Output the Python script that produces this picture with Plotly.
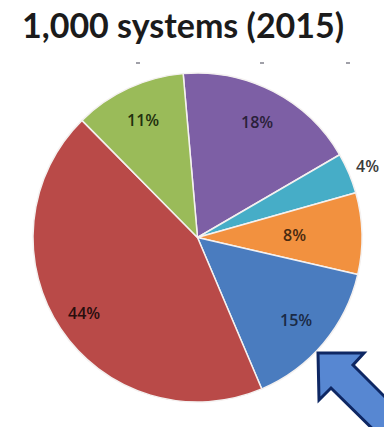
import math
import plotly.graph_objects as go

# Share of the 1,000 systems by category, clockwise from the top
categories = ["Purple", "Cyan", "Orange", "Blue", "Red", "Green"]
shares = [18, 4, 8, 15, 44, 11]
label_texts = ["18%", "4%", "8%", "15%", "44%", "11%"]

slice_colors = ["#7D5FA5", "#46ADC7", "#F2913F", "#4A7CBF", "#B94A48", "#9ABB59"]
label_radius = [0.79, 1.12, 0.59, 0.78, 0.83, 0.79]   # fraction of pie radius
label_colors = ["#2a1f3a", "#3a3a3a", "#4a2a10", "#1a2a45", "#2a0e0e", "#22300e"]

W, H = 384, 427
CX, CY, R = 197.5, 237.5, 164.5
ROTATION = -5


def px(x):
    return x / W


def py(y):
    return 1 - y / H


fig = go.Figure()
fig.add_trace(go.Pie(
    labels=categories,
    values=shares,
    sort=False,
    direction="clockwise",
    rotation=ROTATION,
    textinfo="none",
    hoverinfo="label+percent",
    showlegend=False,
    marker=dict(colors=slice_colors, line=dict(color="#f4f1f0", width=1.5)),
    domain=dict(x=[px(CX - R), px(CX + R)], y=[py(CY + R), py(CY - R)]),
))

# Percentage labels placed along each slice's middle angle
total = sum(shares)
start = ROTATION
annotations = []
for val, txt, rf, col in zip(shares, label_texts, label_radius, label_colors):
    span = val / total * 360
    mid = math.radians(start + span / 2)
    start += span
    lx = CX + rf * R * math.sin(mid)
    ly = CY - rf * R * math.cos(mid)
    annotations.append(dict(
        x=px(lx), y=py(ly), xref="paper", yref="paper",
        text=txt, showarrow=False,
        font=dict(family="Open Sans", size=16, color=col, weight=600),
        xanchor="center", yanchor="middle",
    ))

# Title
annotations.append(dict(
    x=px(183), y=py(25), xref="paper", yref="paper",
    text="<b>1,000 systems (2015)</b>", showarrow=False,
    font=dict(family="Lato", size=34, color="#1b1b1b"),
    xanchor="center", yanchor="middle",
))

# Pointer arrow in the lower right corner
arrow_pts = [(318, 353), (364, 353), (353, 365), (413, 425),
             (391, 447), (331, 388), (319, 400)]
path = "M " + " L ".join(f"{px(x):.5f},{py(y):.5f}" for x, y in arrow_pts) + " Z"
shapes = [dict(
    type="path", path=path, xref="paper", yref="paper",
    fillcolor="#5787D2", line=dict(color="#0E2763", width=3),
)]

# Small grey tick marks above the pie
for x in (138, 262, 348):
    shapes.append(dict(
        type="rect", xref="paper", yref="paper",
        x0=px(x - 2), x1=px(x + 2), y0=py(64), y1=py(62),
        fillcolor="#a0a0a8", line=dict(width=0),
    ))

fig.update_layout(
    width=W, height=H,
    margin=dict(l=0, r=0, t=0, b=0),
    paper_bgcolor="white",
    plot_bgcolor="white",
    annotations=annotations,
    shapes=shapes,
)

fig.write_html("out.html")
